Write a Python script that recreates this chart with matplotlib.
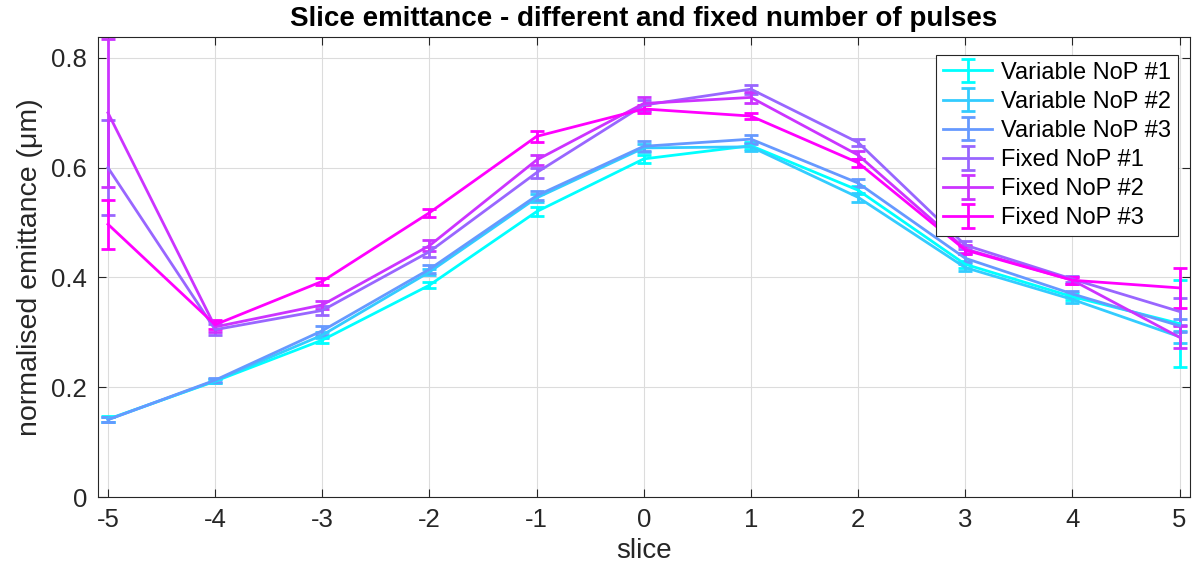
import numpy as np
import matplotlib
matplotlib.use("Agg")
import matplotlib.pyplot as plt

plt.rcParams['font.family'] = ['Liberation Sans', 'DejaVu Sans']
plt.rcParams['axes.unicode_minus'] = False

slices = [-5, -4, -3, -2, -1, 0, 1, 2, 3, 4, 5]

labels = ['Variable NoP #1', 'Variable NoP #2', 'Variable NoP #3',
          'Fixed NoP #1', 'Fixed NoP #2', 'Fixed NoP #3']

var1 = [0.142, 0.211, 0.286, 0.386, 0.520, 0.616, 0.640, 0.559, 0.424, 0.365, 0.316]
var2 = [0.141, 0.212, 0.295, 0.410, 0.545, 0.636, 0.638, 0.546, 0.418, 0.360, 0.292]
var3 = [0.141, 0.213, 0.303, 0.415, 0.549, 0.639, 0.652, 0.572, 0.435, 0.370, 0.312]
fix1 = [0.600, 0.305, 0.340, 0.447, 0.591, 0.714, 0.743, 0.646, 0.459, 0.397, 0.338]
fix2 = [0.700, 0.310, 0.350, 0.458, 0.614, 0.717, 0.728, 0.623, 0.452, 0.395, 0.291]
fix3 = [0.497, 0.314, 0.393, 0.518, 0.657, 0.707, 0.694, 0.609, 0.450, 0.395, 0.381]

var1_err = [0.005, 0.004, 0.006, 0.006, 0.008, 0.007, 0.006, 0.007, 0.006, 0.006, 0.079]
var2_err = [0.005, 0.004, 0.006, 0.006, 0.007, 0.008, 0.007, 0.008, 0.006, 0.007, 0.011]
var3_err = [0.005, 0.004, 0.008, 0.007, 0.008, 0.009, 0.008, 0.007, 0.007, 0.006, 0.012]
fix1_err = [0.086, 0.010, 0.008, 0.009, 0.009, 0.010, 0.008, 0.006, 0.008, 0.006, 0.024]
fix2_err = [0.135, 0.010, 0.008, 0.010, 0.009, 0.012, 0.010, 0.008, 0.007, 0.006, 0.020]
fix3_err = [0.045, 0.008, 0.006, 0.007, 0.010, 0.007, 0.006, 0.007, 0.008, 0.006, 0.037]

series = [var1, var2, var3, fix1, fix2, fix3]
errors = [var1_err, var2_err, var3_err, fix1_err, fix2_err, fix3_err]

# matlab cool(6)
colors = [(0, 1, 1), (0.2, 0.8, 1), (0.4, 0.6, 1),
          (0.6, 0.4, 1), (0.8, 0.2, 1), (1, 0, 1)]

fig = plt.figure(figsize=(12.04, 5.74), dpi=100)
ax = fig.add_axes([0.0814, 0.134, 0.9066, 0.8015])

for y, e, c, lab in zip(series, errors, colors, labels):
    ax.errorbar(slices, y, yerr=e, color=c, lw=2.0, elinewidth=2.0,
                capsize=5, capthick=2.0, label=lab)

ax.set_xlim(-5.093, 5.093)
ax.set_ylim(0, 0.838)
ax.set_xticks(slices)
ax.set_yticks([0, 0.2, 0.4, 0.6, 0.8])
ax.set_yticklabels(['0', '0.2', '0.4', '0.6', '0.8'])
ax.grid(True, color='#dcdcdc', lw=0.8)
ax.set_axisbelow(True)
ax.tick_params(direction='in', top=True, right=True, labelsize=18.5,
               length=6, color='#262626', labelcolor='#262626', pad=8)
for s in ax.spines.values():
    s.set_color('#262626')
    s.set_linewidth(0.8)

ax.set_xlabel('slice', fontsize=20, color='#262626', labelpad=4)
ax.set_ylabel('normalised emittance (μm)', fontsize=20.5, color='#262626', labelpad=6)
ax.set_title('Slice emittance - different and fixed number of pulses',
             fontsize=20, fontweight='bold', pad=8)

leg = ax.legend(loc='upper right', bbox_to_anchor=(0.9935, 0.972), fontsize=17,
                fancybox=False, edgecolor='#262626', framealpha=1,
                handlelength=2.1, labelspacing=0.3, borderpad=0.3,
                handletextpad=0.35, borderaxespad=0.2)
leg.get_frame().set_linewidth(0.8)

fig.savefig('out.png', dpi=100)
